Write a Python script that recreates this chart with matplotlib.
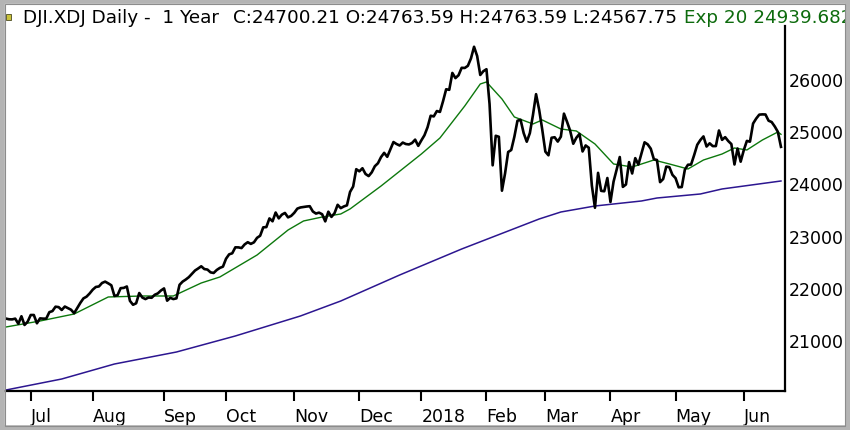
import numpy as np
import pandas as pd
import matplotlib
matplotlib.use('agg')
import matplotlib.pyplot as plt
from matplotlib.patches import Rectangle

# trading days shown, 21 Jun 2017 .. 19 Jun 2018
holidays = ['2017-07-04', '2017-09-04', '2017-11-23', '2017-12-25', '2018-01-01',
            '2018-01-15', '2018-02-19', '2018-03-30', '2018-05-28']
days = pd.bdate_range('2017-06-21', '2018-06-19')
days = days[~days.isin(pd.to_datetime(holidays))]

# daily close, read month by month
close_jun17 = [21410, 21397, 21395, 21409, 21311, 21455, 21288, 21350]
close_jul = [21479, 21479, 21320, 21414, 21409, 21409, 21533, 21554, 21638, 21630,
             21575, 21641, 21611, 21580, 21513, 21613, 21711, 21797, 21830, 21891]
close_aug = [21964, 22016, 22026, 22092, 22118, 22085, 22048, 21844, 21858, 21993,
             21998, 22025, 21750, 21675, 21703, 21900, 21813, 21784, 21814, 21809,
             21866, 21893, 21948]
close_sep = [21988, 21753, 21808, 21784, 21798, 22057, 22119, 22158, 22204, 22268,
             22331, 22370, 22412, 22359, 22349, 22296, 22284, 22341, 22381, 22405]
close_oct = [22557, 22641, 22661, 22775, 22774, 22761, 22831, 22873, 22841, 22871,
             22957, 22997, 23158, 23163, 23329, 23274, 23442, 23330, 23401, 23434,
             23349, 23377]
close_nov = [23436, 23517, 23539, 23548, 23557, 23563, 23462, 23422, 23440, 23409,
             23272, 23458, 23358, 23430, 23590, 23526, 23558, 23580, 23836, 23940,
             24272]
close_dec = [24231, 24290, 24180, 24140, 24212, 24329, 24386, 24504, 24585, 24509,
             24651, 24792, 24754, 24726, 24782, 24754, 24746, 24774, 24838, 24719]
close_jan = [24824, 24922, 25075, 25296, 25283, 25386, 25369, 25575, 25803, 25792,
             26116, 26017, 26072, 26214, 26211, 26252, 26393, 26617, 26440, 26077,
             26149]
close_feb = [26187, 25521, 24346, 24912, 24893, 23860, 24191, 24601, 24640, 24893,
             25200, 25219, 24964, 24798, 24963, 25310, 25709, 25410, 25029]
close_mar = [24608, 24538, 24874, 24884, 24801, 24895, 25336, 25179, 25008, 24759,
             24874, 24947, 24611, 24727, 24683, 23958, 23533, 24202, 23857, 23849,
             24103]
close_apr = [23644, 24034, 24265, 24505, 23933, 23979, 24408, 24190, 24484, 24360,
             24573, 24787, 24748, 24665, 24463, 24448, 24024, 24084, 24322, 24311,
             24163]
close_may = [24100, 23925, 23930, 24263, 24357, 24361, 24543, 24740, 24831, 24900,
             24706, 24768, 24714, 24715, 25013, 24834, 24886, 24811, 24753, 24362,
             24668, 24416]
close_jun18 = [24635, 24814, 24799, 25146, 25241, 25317, 25322, 25320, 25201, 25175,
               25090, 24987, 24700]
close = (close_jun17 + close_jul + close_aug + close_sep + close_oct + close_nov +
         close_dec + close_jan + close_feb + close_mar + close_apr + close_may +
         close_jun18)

# Exp 20 line, read at day positions
ema_day = [0, 11, 22, 33, 44, 54, 63, 69, 81, 91, 96, 102, 108, 111, 121, 134, 140,
           148, 153, 155, 160, 164, 170, 173, 179, 184, 190, 196, 202, 209, 214, 220,
           225, 231, 235, 239, 244, 249, 250]
ema_val = [21249, 21364, 21498, 21824, 21843, 21843, 22092, 22207, 22628, 23107,
           23280, 23356, 23414, 23510, 23950, 24563, 24870, 25483, 25904, 25943,
           25617, 25272, 25138, 25215, 25042, 25004, 24755, 24372, 24314, 24448,
           24372, 24276, 24448, 24563, 24678, 24640, 24831, 24985, 24940]

# long average (blue)
ma_day = [0, 18, 35, 55, 74, 95, 108, 127, 147, 172, 179, 190, 205, 210, 224, 231, 250]
ma_val = [20042, 20253, 20540, 20770, 21077, 21460, 21747, 22245, 22743, 23318,
          23452, 23567, 23663, 23720, 23797, 23893, 24046]

yticks = [21000, 22000, 23000, 24000, 25000, 26000]

month = days.month
starts = [i for i in range(1, len(days)) if month[i] != month[i - 1]]
mlabels = ['2018' if days[i].month == 1 else days[i].strftime('%b') for i in starts]

W, H = 850, 431
fig = plt.figure(figsize=(W / 100, H / 100), dpi=100)
ax = fig.add_axes([5 / W, 1 - 392 / H, 780 / W, 365 / H])

ax.plot(ma_day, ma_val, color='#2c1690', lw=1.1)
ax.plot(ema_day, ema_val, color='#0d780d', lw=1.0)
ax.plot(range(len(close)), close, color='black', lw=1.9)

ax.set_xlim(-0.3, 251.3)
ax.set_ylim(20023, 27015)

for s in ['left', 'top']:
    ax.spines[s].set_visible(False)
for s in ['right', 'bottom']:
    ax.spines[s].set_linewidth(1.6)
    ax.spines[s].set_color('black')

ax.yaxis.tick_right()
ax.set_yticks(yticks)
ax.set_yticklabels([str(v) for v in yticks])
ax.tick_params(axis='y', length=0, pad=2.5, labelsize=12.5)

ax.set_xticks(starts)
ax.set_xticklabels(mlabels, ha='left')
ax.tick_params(axis='x', direction='out', length=7.5, width=1.5, pad=4, labelsize=12.5)

# header
ty = 1 - 18 / H
fig.text(23 / W, ty, 'DJI.XDJ Daily -  1 Year', fontsize=13.2, va='center')
fig.text(233 / W, ty, 'C:24700.21 O:24763.59 H:24763.59 L:24567.75', fontsize=13.2, va='center')
fig.text(684 / W, ty, 'Exp 20 24939.682', fontsize=13.2, va='center', color='#0d6b0d')
fig.patches.append(Rectangle((6 / W, 1 - 21 / H), 5 / W, 6 / H, transform=fig.transFigure,
                             fc='#c9c23a', ec='#4a4a20', lw=0.6, zorder=5))

# window frame
fig.patches.append(Rectangle((0, 0), 1, 1, transform=fig.transFigure, fill=False,
                             ec='#b4b4b4', lw=7, zorder=10))
fig.patches.append(Rectangle((4.8 / W, 4.5 / H), 1 - 9.6 / W, 1 - 9 / H, transform=fig.transFigure,
                             fill=False, ec='#8c8c8c', lw=0.8, zorder=10))

fig.savefig('out.png', dpi=100)
